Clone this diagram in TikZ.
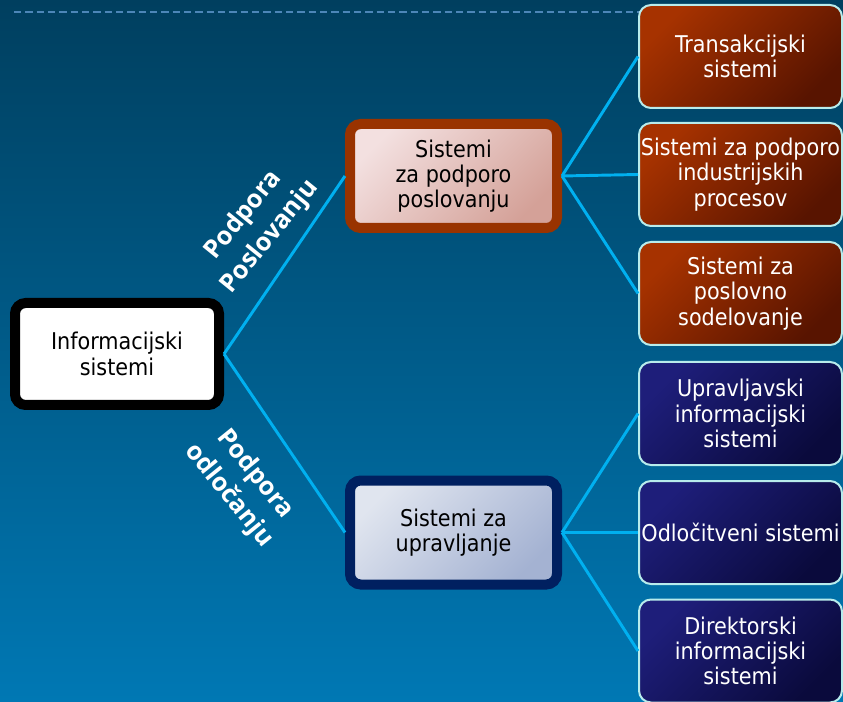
\documentclass[tikz,border=0pt]{standalone}
\usepackage{fontspec}
\setmainfont{DejaVu Sans Condensed}
\newfontfamily\labelfont{Open Sans}
\usetikzlibrary{positioning}

% colours
\definecolor{bgtop}{HTML}{003F5F}
\definecolor{bgbot}{HTML}{0078B4}
\definecolor{dashcol}{HTML}{4C86B8}
\definecolor{linkcol}{HTML}{00B0F0}
\definecolor{brownborder}{HTML}{993300}
\definecolor{navyborder}{HTML}{002060}
\definecolor{pinklight}{HTML}{F3E0E0}
\definecolor{pinkdark}{HTML}{D4A198}
\definecolor{bluelight}{HTML}{E0E5EF}
\definecolor{bluedark}{HTML}{A4B2D2}
\definecolor{rusttop}{HTML}{A63200}
\definecolor{rustbot}{HTML}{581400}
\definecolor{indigotop}{HTML}{1E1E7A}
\definecolor{indigobot}{HTML}{0A0A3C}
\definecolor{leafborder}{HTML}{B8ECEC}

\tikzset{
  txt/.style={font=\fontsize{17.3pt}{18.9pt}\selectfont, align=center},
  rootbox/.style={txt, draw=black, fill=white, line width=7.5pt,
    rounded corners=8pt, minimum width=153pt, minimum height=76.5pt, inner sep=0pt},
  midbox/.style={txt, line width=7.5pt, rounded corners=8pt,
    minimum width=155.25pt, minimum height=78pt, inner sep=0pt},
  % the shading angle must follow the colour keys, which reset it
  bizbox/.style={midbox, draw=brownborder, top color=pinklight,
    bottom color=pinkdark, shading angle=45},
  mgmtbox/.style={midbox, draw=navyborder, top color=bluelight,
    bottom color=bluedark, shading angle=45},
  leafbox/.style={txt, text=white, draw=leafborder, line width=1.5pt,
    rounded corners=9pt, minimum width=152.25pt, minimum height=77.25pt,
    inner sep=0pt},
  rustbox/.style={leafbox, top color=rusttop, bottom color=rustbot, shading angle=45},
  indigobox/.style={leafbox, top color=indigotop, bottom color=indigobot, shading angle=45},
  link/.style={draw=linkcol, line width=2.2pt},
  tag/.style={text=white, align=center,
    font=\labelfont\bfseries\fontsize{19pt}{25.5pt}\selectfont},
}

\begin{document}
\begin{tikzpicture}[x=0.75pt, y=-0.75pt]
  % backdrop
  \shade[top color=bgtop, bottom color=bgbot] (0,0) rectangle (843,702);
  \useasboundingbox (0,0) rectangle (843,702);
  \draw[dashcol, line width=1.4pt, dash pattern=on 5.5pt off 3pt] (14,12) -- (640,12);

  % root
  \node[rootbox] (root) at (117,354) {Informacijski\\sistemi};

  % second level
  \node[bizbox] (biz) at (453.5,176) {Sistemi\\za podporo\\poslovanju};
  \node[mgmtbox] (mgmt) at (453.5,532.5) {Sistemi za\\upravljanje};

  % leaves
  \node[rustbox] (trans) at (740.5,56.5) {Transakcijski\\sistemi};
  \node[rustbox] (ind) at (740.5,174.5) {Sistemi za podporo\\industrijskih\\procesov};
  \node[rustbox] (coop) at (740.5,293.5) {Sistemi za\\poslovno\\sodelovanje};
  \node[indigobox] (mis) at (740.5,413.5) {Upravljavski\\informacijski\\sistemi};
  \node[indigobox] (dss) at (740.5,532.5) {Odločitveni sistemi};
  \node[indigobox] (eis) at (740.5,651) {Direktorski\\informacijski\\sistemi};

  % connectors
  \draw[link] (root.east) -- (biz.west);
  \draw[link] (root.east) -- (mgmt.west);
  \foreach \leaf in {trans, ind, coop} \draw[link] (biz.east) -- (\leaf.west);
  \foreach \leaf in {mis, dss, eis} \draw[link] (mgmt.east) -- (\leaf.west);

  % branch captions
  \node[tag, rotate=51] (capbiz) at (257,226) {Podpora\\Poslovanju};
  \node[tag, rotate=-51] (capdec) at (242,485) {Podpora\\odločanju};
\end{tikzpicture}
\end{document}
